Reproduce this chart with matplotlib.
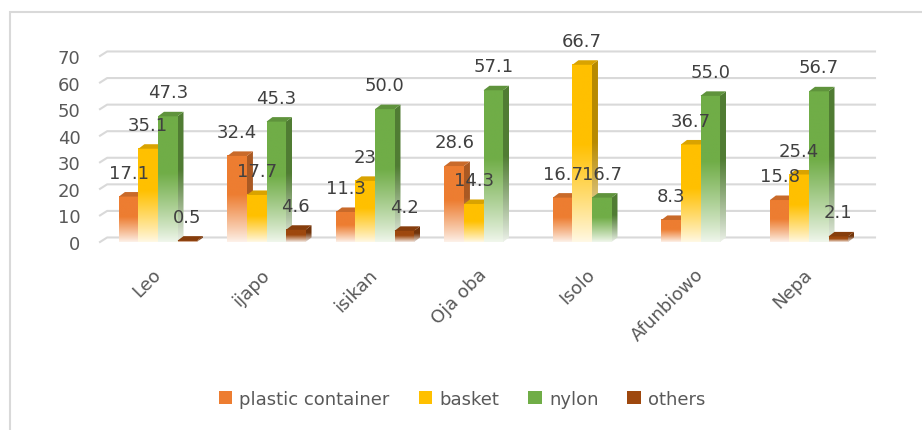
import numpy as np
import matplotlib
matplotlib.use("Agg")
import matplotlib.pyplot as plt
from matplotlib.patches import Polygon, Patch, Rectangle
from matplotlib.colors import to_rgb

markets = ["Leo", "ijapo", "isikan", "Oja oba", "Isolo", "Afunbiowo", "Nepa"]
# values kept as the printed labels, converted to numbers for the bars
plastic = ["17.1", "32.4", "11.3", "28.6", "16.7", "8.3", "15.8"]
basket = ["35.1", "17.7", "23", "14.3", "66.7", "36.7", "25.4"]
nylon = ["47.3", "45.3", "50.0", "57.1", "16.7", "55.0", "56.7"]
others = ["0.5", "4.6", "4.2", None, None, None, "2.1"]

series = ["plastic container", "basket", "nylon", "others"]
colors = ["#ED7D31", "#FFC000", "#70AD47", "#9E480E"]
yticks = [0, 10, 20, 30, 40, 50, 60, 70]

W = 0.18      # bar width
DX = 0.055    # depth in x (category units)
DY = 1.7      # depth in y (value units)

fig = plt.figure(figsize=(9.22, 4.31), dpi=100)
ax = fig.add_axes([100 / 922, 1 - 243 / 431, 775 / 922, 186 / 431])
ax.set_xlim((100 - 158) / 108.5, (875 - 158) / 108.5)
ax.set_ylim(0, 70)


def grad_img(rgb):
    t = np.linspace(0, 1, 200)[:, None]
    a = 0.1 + 0.9 * np.clip(t / 0.55, 0, 1) ** 0.9
    c = np.array(rgb)[None, :]
    img = (1 - a) * 1.0 + a * c
    return img[:, None, :]


def shade(rgb, f):
    return tuple(v * f for v in rgb)


# back-wall gridlines
xl, xr = ax.get_xlim()
for yv in yticks:
    ax.plot([xl, xl + DX * 1.2, xr], [yv, yv + DY, yv + DY], color="#d9d9d9",
            lw=1.5, clip_on=False, zorder=0)

x = np.arange(len(markets))
data = [plastic, basket, nylon, others]
z = 2
for i in range(len(markets)):
    for k, ser in enumerate(data):
        s = ser[i]
        if s is None:
            continue
        h = float(s)
        rgb = to_rgb(colors[k])
        x0 = x[i] + (k - 2) * W
        x1 = x0 + W
        # front face
        im = ax.imshow(grad_img(rgb), extent=(x0, x1, 0, h), origin="lower",
                       aspect="auto", zorder=z, interpolation="bilinear")
        # side face
        side = Polygon([(x1, 0), (x1 + DX, DY), (x1 + DX, h + DY), (x1, h)],
                       closed=True, transform=ax.transData)
        im2 = ax.imshow(grad_img(shade(rgb, 0.72)), extent=(x1, x1 + DX, 0, h + DY),
                        origin="lower", aspect="auto", zorder=z, interpolation="bilinear")
        im2.set_clip_path(side)
        # top face
        top = Polygon([(x0, h), (x1, h), (x1 + DX, h + DY), (x0 + DX, h + DY)],
                      closed=True, fc=shade(rgb, 0.85), ec="none", zorder=z + 0.5)
        ax.add_patch(top)
        ax.annotate(s, (x0 + W / 2, h + DY), xytext=(0, 14), textcoords="offset points",
                    ha="center", va="center", fontsize=13, color="#404040", zorder=50)
        z += 1
    z += 1

ax.set_xticks(x)
ax.set_xticklabels(markets, rotation=45, ha="right", va="center",
                   rotation_mode="anchor", fontsize=13, color="#595959")
ax.set_yticks(yticks)
ax.set_yticklabels([str(v) for v in yticks], fontsize=13, color="#595959")
ax.tick_params(axis="x", length=0, pad=21)
ax.tick_params(axis="y", length=0, pad=14)
for sp in ax.spines.values():
    sp.set_visible(False)

handles = [Patch(facecolor=c, edgecolor="none") for c in colors]
fig.legend(handles, series, loc="center", bbox_to_anchor=(462 / 922, 1 - 400 / 431),
           ncol=4, frameon=False, fontsize=13, handlelength=0.75, handleheight=0.75,
           handletextpad=0.4, columnspacing=1.6, labelcolor="#595959")

fig.add_artist(Rectangle((10 / 922, -0.1), 1.0, 1 - 13 / 431 + 0.1,
                         transform=fig.transFigure, fill=False, ec="#d9d9d9", lw=1.5))

fig.savefig("out.png", dpi=100)
